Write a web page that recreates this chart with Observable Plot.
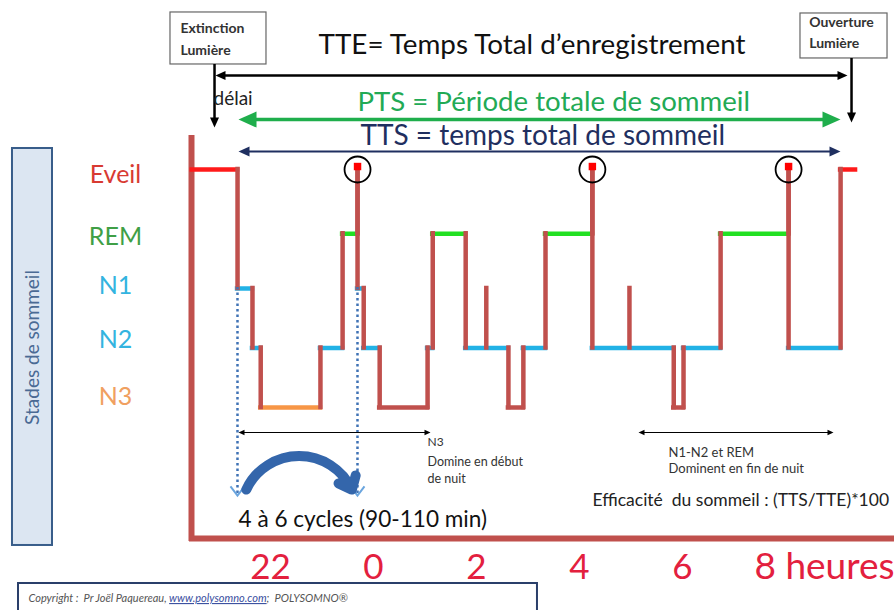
<!DOCTYPE html>
<html><head><meta charset="utf-8">
<script src="https://cdn.jsdelivr.net/npm/d3@7"></script>
<script src="https://cdn.jsdelivr.net/npm/@observablehq/plot@0.6"></script>
<style>body{margin:0;background:#fff} svg{display:block}</style>
</head><body><div id="chart"></div>
<script>
// ---------- data (time = hours after 22:00, stage rank from N3=0 to Eveil=4) ----------
const stages = ["N3", "N2", "N1", "REM", "Eveil"];
const stageRank = [0, 1, 2, 2.92, 4];
const segmentStart = [-1.52, -0.64, -0.35, -0.19, 0.97, 1.40, 1.69, 1.81, 2.12, 3.05, 3.15, 3.79, 4.62, 4.91, 5.34, 6.25, 7.83, 8.02, 8.74, 10.06, 11.07];
const segmentStage = ["Eveil", "N1", "N2", "N3", "N2", "REM", "N1", "N2", "N3", "N2", "REM", "N2", "N3", "N2", "REM", "N2", "N3", "N2", "REM", "N2", "Eveil"];
const recordEnd = 11.36;
const awakenings = [1.69, 6.25, 10.06];     // brief awakenings (circled)
const arousalsN1 = [4.19, 6.97];           // brief lightening to N1
const hourTicks = [0, 2, 4, 6, 8, 10];
const hourLabels = ["22", "0", "2", "4", "6", "8 heures"];
const stageLabelRank = [0.17, 1.14, 2.05, 2.86, 3.90];
const copyrightParts = ["Copyright :  Pr Joël Paquereau, ", "www.polysomno.com", ";  POLYSOMNO®"];

// ---------- derived tables ----------
const rank = s => stageRank[stages.indexOf(s)];
const segments = segmentStart.map((t0, i) => ({
  t0, t1: i + 1 < segmentStart.length ? segmentStart[i + 1] : recordEnd, stage: segmentStage[i], i
}));
const firstN3 = segmentStage.indexOf("N3");
const segColor = d => d.stage === "Eveil" ? "#ff1a1a" : d.stage === "REM" ? "#22e022"
  : d.stage === "N3" ? (d.i === firstN3 ? "#f79646" : "#c0504d") : "#22b2e6";
const verticals = [];
segments.forEach((s, i) => {
  const L = rank(s.stage);
  arousalsN1.filter(a => a > s.t0 && a < s.t1).forEach(a => verticals.push({t: a, y1: L, y2: rank("N1")}));
  if (i + 1 < segments.length) {
    const next = rank(segments[i + 1].stage);
    if (awakenings.some(a => Math.abs(a - s.t1) < 1e-9)) {
      verticals.push({t: s.t1, y1: L, y2: rank("Eveil")});
      verticals.push({t: s.t1, y1: rank("Eveil"), y2: next});
    } else verticals.push({t: s.t1, y1: L, y2: next});
  }
});
const stageLabels = stages.map((s, i) => ({s, L: stageLabelRank[i]}));
const stageLabelColor = {N3: "#f0a060", N2: "#33b4e0", N1: "#33b4e0", REM: "#3f9f46", Eveil: "#d83a32"};
const hours = hourTicks.map((t, i) => ({t, s: hourLabels[i]}));

// ---------- symbols ----------
const tipSymbol = {draw(ctx, size) { const r = Math.sqrt(size / Math.PI); ctx.moveTo(0, 0); ctx.lineTo(-2 * r, -0.9 * r); ctx.lineTo(-2 * r, 0.9 * r); ctx.closePath(); }};
const vSymbol = {draw(ctx, size) { const r = Math.sqrt(size / Math.PI); ctx.moveTo(-r, -1.3 * r); ctx.lineTo(0, 0); ctx.lineTo(r, -1.3 * r); }};

const txt = (s, t, L, o) => Plot.text([{s, t, L}], {x: "t", y: "L", text: "s", ...o});
const hArrow = (t1, t2, L, color, sw, r) => [
  Plot.ruleY([{t1, t2, L}], {x1: "t1", x2: "t2", y: "L", stroke: color, strokeWidth: sw, insetLeft: 2 * r - 2, insetRight: 2 * r - 2}),
  Plot.dot([{t: t1, L}], {x: "t", y: "L", symbol: tipSymbol, r, rotate: 180, fill: color, stroke: "none"}),
  Plot.dot([{t: t2, L}], {x: "t", y: "L", symbol: tipSymbol, r, rotate: 0, fill: color, stroke: "none"})
];
const vArrow = (t, Ltop, Ltip, color, sw, r) => [
  Plot.ruleX([{t, Ltop, Ltip}], {x: "t", y1: "Ltop", y2: "Ltip", stroke: color, strokeWidth: sw, insetBottom: 2 * r - 2}),
  Plot.dot([{t, L: Ltip}], {x: "t", y: "L", symbol: tipSymbol, r, rotate: 90, fill: color, stroke: "none"})
];

const F = "Lato, 'Open Sans', sans-serif";
const brown = "#c0504d";

const chart = Plot.plot({
  width: 894, height: 610, margin: 0,
  x: {domain: [-5.2427, 12.1165], range: [0, 894], axis: null},
  y: {domain: [-3.4118, 6.8403], range: [610, 0], axis: null},
  color: {type: "identity"},
  style: {fontFamily: F, background: "#fff", overflow: "hidden"},
  marks: [
    // left "Stades de sommeil" box
    Plot.rect([{a: -5.010, b: -4.233, c: -2.319, d: 4.353}], {x1: "a", x2: "b", y1: "c", y2: "d", fill: "#dce6f2", stroke: "#385d8a", strokeWidth: 2}),
    txt("Stades de sommeil", -4.621, 1.008, {rotate: -90, fontSize: 19, fill: "#4a6a94", fontFamily: F}),
    // frame
    Plot.ruleX([{t: -1.534, a: -2.252, b: 4.571}], {x: "t", y1: "a", y2: "b", stroke: brown, strokeWidth: 6}),
    Plot.ruleY([{L: -2.202, a: -1.573, b: 12.2}], {y: "L", x1: "a", x2: "b", stroke: brown, strokeWidth: 6}),
    // stage labels
    Plot.text(stageLabels, {x: -3.01, y: "L", text: "s", fill: d => stageLabelColor[d.s], fontSize: 25, fontFamily: F}),
    // hour labels
    Plot.text(hours.filter(d => d.t < 10), {x: "t", y: -2.689, text: "s", fill: "#e3203e", fontSize: 35, fontFamily: F}),
    Plot.text(hours.filter(d => d.t >= 10), {x: "t", y: -2.689, text: "s", fill: "#e3203e", fontSize: 37, fontFamily: F, textAnchor: "start", dx: -31}),
    // hypnogram
    Plot.ruleY(segments, {y: d => rank(d.stage), x1: "t0", x2: "t1", stroke: segColor, strokeWidth: 4.5, strokeLinecap: "square"}),
    Plot.ruleX(verticals, {x: "t", y1: "y1", y2: "y2", stroke: brown, strokeWidth: 4.5, strokeLinecap: "square"}),
    Plot.dot(awakenings, {x: d => d, y: 4.05, symbol: "square", r: 4.2, fill: "#ff0000", stroke: "none"}),
    Plot.dot(awakenings, {x: d => d, y: 4.0, r: 13, fill: "none", stroke: "#000", strokeWidth: 1.8}),
    // top annotation boxes
    Plot.rect([{a: -1.942, b: -0.078, c: 5.765, d: 6.639}], {x1: "a", x2: "b", y1: "c", y2: "d", fill: "#fff", stroke: "#666", strokeWidth: 1.2}),
    txt("Extinction", -1.748, 6.37, {textAnchor: "start", fontSize: 14, fontWeight: "bold", fill: "#333", fontFamily: F}),
    txt("Lumière", -1.748, 6.00, {textAnchor: "start", fontSize: 14, fontWeight: "bold", fill: "#333", fontFamily: F}),
    Plot.rect([{a: 10.291, b: 11.981, c: 5.866, d: 6.622}], {x1: "a", x2: "b", y1: "c", y2: "d", fill: "#fff", stroke: "#666", strokeWidth: 1.2}),
    txt("Ouverture", 10.46, 6.47, {textAnchor: "start", fontSize: 14, fontWeight: "bold", fill: "#333", fontFamily: F}),
    txt("Lumière", 10.46, 6.12, {textAnchor: "start", fontSize: 14, fontWeight: "bold", fill: "#333", fontFamily: F}),
    ...vArrow(-1.087, 5.765, 4.706, "#000", 2.5, 5),
    ...vArrow(11.282, 5.866, 4.790, "#000", 2.5, 5),
    ...hArrow(-1.068, 11.204, 5.580, "#000", 2.5, 5),
    txt("TTE= Temps Total d’enregistrement", 0.932, 6.084, {textAnchor: "start", fontSize: 27.8, fill: "#111", fontFamily: F}),
    txt("délai", -1.107, 5.193, {textAnchor: "start", fontSize: 19, fill: "#222", fontFamily: F}),
    ...hArrow(-0.621, 11.068, 4.84, "#1fae4c", 3.5, 9),
    txt("PTS = Période totale de sommeil", 1.689, 5.126, {textAnchor: "start", fontSize: 27.6, fill: "#22aa55", fontFamily: F}),
    ...hArrow(-0.621, 11.068, 4.303, "#1f2f60", 2, 5.5),
    txt("TTS = temps total de sommeil", 1.748, 4.555, {textAnchor: "start", fontSize: 28, fill: "#1f2f60", fontFamily: F}),
    // cycle markers
    Plot.ruleX([-0.641, 1.689], {x: d => d, y1: 2.017, y2: -1.46, stroke: "#3f72b5", strokeWidth: 2.5, strokeDasharray: "2.5,3"}),
    Plot.dot([-0.641, 1.689], {x: d => d, y: -1.479, symbol: vSymbol, r: 7, fill: "none", stroke: "#6aa5de", strokeWidth: 2}),
    Plot.arrow([{a: -0.47, b: 1.58, L: -1.38}], {x1: "a", x2: "b", y1: "L", y2: "L", bend: 65, stroke: "#3466ab", strokeWidth: 10, headLength: 2.2, headAngle: 80}),
    ...hArrow(-0.621, 3.107, -0.42, "#000", 1.2, 3),
    ...hArrow(7.146, 10.932, -0.42, "#000", 1.2, 3),
    txt("N3", 3.049, -0.588, {textAnchor: "start", fontSize: 12, fill: "#333", fontFamily: F}),
    txt("Domine en début", 3.049, -0.908, {textAnchor: "start", fontSize: 12.5, fill: "#333", fontFamily: F}),
    txt("de nuit", 3.049, -1.210, {textAnchor: "start", fontSize: 12.5, fill: "#333", fontFamily: F}),
    txt("N1-N2 et REM", 7.728, -0.756, {textAnchor: "start", fontSize: 13, fill: "#333", fontFamily: F}),
    txt("Dominent en fin de nuit", 7.728, -1.025, {textAnchor: "start", fontSize: 13, fill: "#333", fontFamily: F}),
    txt("Efficacité  du sommeil : (TTS/TTE)*100", 6.252, -1.563, {textAnchor: "start", fontSize: 17.5, fill: "#222", fontFamily: F}),
    txt("4 à 6 cycles (90-110 min)", -0.621, -1.882, {textAnchor: "start", fontSize: 22.6, fill: "#111", fontFamily: F}),
    // copyright
    Plot.rect([{a: -4.893, b: 5.184, c: -3.6, d: -2.958}], {x1: "a", x2: "b", y1: "c", y2: "d", fill: "#fff", stroke: "#2a3f6a", strokeWidth: 2}),
    txt(copyrightParts.join(""), -4.699, -3.21, {textAnchor: "start", fontSize: 11, fontStyle: "italic", fill: "#555", fontFamily: F})
  ]
});
// split the copyright line into styled spans (link underlined)
d3.select(chart).selectAll("text").filter(function () { return this.textContent === copyrightParts.join(""); })
  .each(function () {
    const t = d3.select(this);
    t.text(null);
    copyrightParts.forEach((p, i) => {
      const sp = t.append("tspan").text(p);
      if (i === 1) sp.attr("fill", "#3a4fa0").style("text-decoration", "underline");
    });
  });
document.getElementById("chart").appendChild(chart);
</script>
</body></html>
